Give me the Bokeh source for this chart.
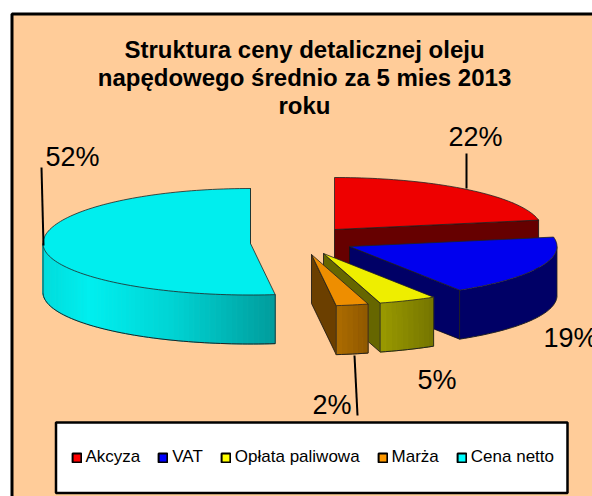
import math
from bokeh.plotting import figure
from bokeh.models import Range1d, Legend, LegendItem, ColumnDataSource
from bokeh.core.properties import value
from bokeh.embed import file_html
from bokeh.resources import INLINE

# ---- data ----
categories = ["Akcyza", "VAT", "Opłata paliwowa", "Marża", "Cena netto"]
shares = [22.1, 19.0, 4.5, 2.5, 51.9]
share_labels = ["22%", "19%", "5%", "2%", "52%"]
title_lines = ["Struktura ceny detalicznej oleju",
               "napędowego średnio za 5 mies 2013",
               "roku"]

# ---- layout and style ----
FONT = "Liberation Sans"
APEX_X = [334, 349, 323, 311, 250]
APEX_Y = [229, 246, 253, 254, 243]
RX = 207.5
RY_BACK = [52, 52, 52, 52, 55]
RY_FRONT = 51.5
DEPTH = 49
TOP = ["#ee0000", "#0000ee", "#eeee00", "#ee8e00", "#00eeee"]
WALL = ["#660000", "#000066", "#666600", "#6b3f00", "#00a0a0"]
LEGEND_COL = ["#ff0000", "#0000ff", "#ffff00", "#ff9900", "#00ffff"]
OUTER = [
    [(0, "#660000"), (1, "#660000")],
    [(0, "#000066"), (1, "#000066")],
    [(0, "#9a9a00"), (1, "#757500")],
    [(0, "#ad6c00"), (1, "#8e5800")],
    [(0, "#00dcdc"), (0.2, "#00efef"), (0.55, "#00d4d4"), (1, "#009c9c")],
]
LABEL_X = [448, 543, 417, 312, 45]
LABEL_Y = [136, 337, 379, 404, 156]
LEAD_X0 = [466, 354, 41]
LEAD_Y0 = [153, 355, 167]
LEAD_X1 = [466, 357, 43]
LEAD_Y1 = [188, 415, 245]
TITLE_Y = [48.5, 76.5, 104.5]


def hex_rgb(c):
    return [int(c[i:i + 2], 16) for i in (1, 3, 5)]


def mix(stops, t):
    for (t0, c0), (t1, c1) in zip(stops, stops[1:]):
        if t <= t1:
            f = (t - t0) / (t1 - t0) if t1 > t0 else 0
            a, b = hex_rgb(c0), hex_rgb(c1)
            return "#%02x%02x%02x" % tuple(round(a[i] + (b[i] - a[i]) * f) for i in range(3))
    return stops[-1][1]


def pt(i, deg):
    r = math.radians(deg)
    c = math.cos(r)
    ry = RY_BACK[i] if c > 0 else RY_FRONT
    return APEX_X[i] + RX * math.sin(r), APEX_Y[i] - ry * c


p = figure(width=592, height=496, x_range=Range1d(0, 592), y_range=Range1d(496, 0),
           output_backend="svg", toolbar_location=None, min_border=0,
           outline_line_color=None, background_fill_color="white", border_fill_color="white")
p.axis.visible = False
p.grid.visible = False

# chart panel
p.quad(left=[11.5], right=[620], top=[13.5], bottom=[530],
       fill_color="#ffcc99", line_color="black", line_width=3)

# slices, back to front
total = sum(shares)
start = 0.0
for i, v in enumerate(shares):
    end = start + 360 * v / total
    # end wall
    ex, ey = pt(i, end)
    ax, ay = APEX_X[i], APEX_Y[i]
    p.patch([ax, ex, ex, ax], [ay, ey, ey + DEPTH, ay + DEPTH],
            fill_color=WALL[i], line_color="#111111", line_width=0.8)
    # outer curved wall, front-facing part only
    lo, hi = max(start, 90), min(end, 270)
    if hi > lo:
        n = max(4, int((hi - lo) / 1.5))
        degs = [lo + (hi - lo) * k / n for k in range(n + 1)]
        pts = [pt(i, d) for d in degs]
        xmin, xmax = min(q[0] for q in pts), max(q[0] for q in pts)
        if OUTER[i][0][1] == OUTER[i][-1][1]:
            # single-colour wall: one polygon
            p.patch([q[0] for q in pts] + [q[0] for q in reversed(pts)],
                    [q[1] for q in pts] + [q[1] + DEPTH for q in reversed(pts)],
                    fill_color=OUTER[i][0][1], line_color=None)
        else:
            xs, ys, cols = [], [], []
            for a, b in zip(pts, pts[1:]):
                xs.append([a[0], b[0], b[0], a[0]])
                ys.append([a[1], b[1], b[1] + DEPTH, a[1] + DEPTH])
                t = ((a[0] + b[0]) / 2 - xmin) / (xmax - xmin)
                cols.append(mix(OUTER[i], t))
            p.patches(xs, ys, fill_color=cols, line_color=cols, line_width=1)
        p.line([q[0] for q in pts], [q[1] + DEPTH for q in pts], line_color="#222222", line_width=1)
        p.line([pts[0][0]] * 2, [pts[0][1], pts[0][1] + DEPTH], line_color="#222222", line_width=0.8)
        p.line([pts[-1][0]] * 2, [pts[-1][1], pts[-1][1] + DEPTH], line_color="#222222", line_width=0.8)
    # top face
    n = max(4, int((end - start) / 1.5))
    arc = [pt(i, start + (end - start) * k / n) for k in range(n + 1)]
    p.patch([ax] + [q[0] for q in arc], [ay] + [q[1] for q in arc],
            fill_color=TOP[i], line_color="#222222", line_width=0.8)
    start = end

# data labels and leader lines
p.segment(LEAD_X0, LEAD_Y0, LEAD_X1, LEAD_Y1, line_color="black", line_width=2)
p.text(x=LABEL_X, y=LABEL_Y, text=share_labels, text_font=value(FONT), text_font_size="27px",
       text_color="black", text_baseline="alphabetic", text_align="left")

# title
p.text(x=[304] * 3, y=TITLE_Y, text=title_lines, text_font=value(FONT),
       text_font_size="24px", text_font_style="bold", text_color="black",
       text_align="center", text_baseline="alphabetic")

# legend box and legend
p.quad(left=[55.5], right=[567], top=[422], bottom=[492.5], fill_color="white",
       line_color="black", line_width=2.5)
items = []
for name, col in zip(categories, LEGEND_COL):
    # a swatch-only renderer, placed off the visible range
    off = ColumnDataSource({"l": [-50], "r": [-40], "t": [-50], "b": [-40]})
    r = p.quad(left="l", right="r", top="t", bottom="b", source=off,
               fill_color=col, line_color="black", line_width=2)
    items.append(LegendItem(label=name, renderers=[r]))
leg = Legend(items=items, orientation="horizontal", location=(70.5, 29),
             background_fill_alpha=0, border_line_color=None, margin=0, padding=8,
             spacing=17, glyph_width=11, glyph_height=11, label_standoff=4,
             label_text_font=FONT, label_text_font_size="17px", label_text_color="black")
p.add_layout(leg, "center")

open("out.html", "w").write(file_html(p, INLINE))
